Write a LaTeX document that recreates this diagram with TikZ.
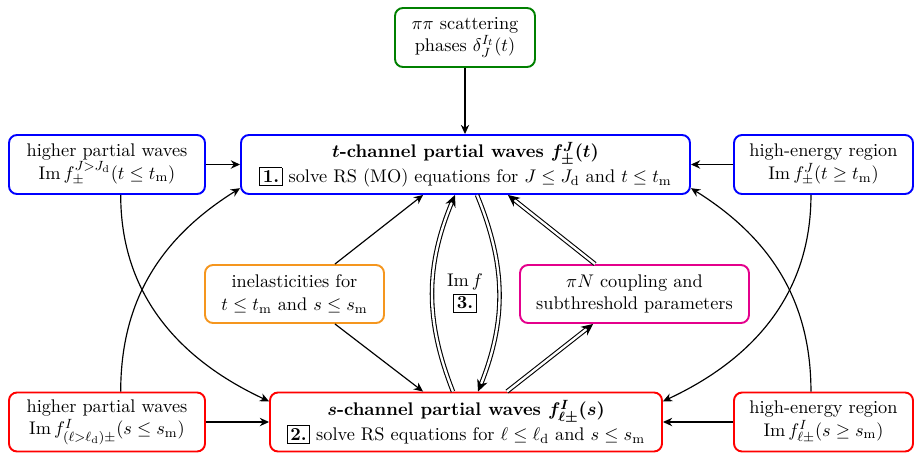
\documentclass[11pt,tikz,border=0pt]{standalone}
\usepackage{amsmath,amssymb}
\usetikzlibrary{arrows.meta}
\definecolor{myorange}{RGB}{245,150,30}
\definecolor{mymagenta}{RGB}{228,0,140}
\definecolor{mygreen}{RGB}{0,128,0}
\newcommand{\nbox}[1]{{\setlength{\fboxsep}{1.6pt}\fbox{\textbf{#1}}}}
\begin{document}
\begin{tikzpicture}[x=0.5984pt,y=-0.5984pt,
  box/.style={draw, rounded corners=4.8pt, line width=1.15pt, align=center, inner xsep=2pt, inner ysep=2pt, minimum height=35.3pt, fill=white},
  arr/.style={line width=0.7pt, -{Stealth[length=5.5pt,width=5pt]}},
  dbl/.style={double, double distance=1.4pt, line width=0.65pt, -{Stealth[length=7pt,width=6.5pt]}}
]
\useasboundingbox (0,0) rectangle (914,452);
\node[box, draw=mygreen, minimum width=83.8pt] (pipi) at (465,37.5) {$\pi\pi$ scattering\\ phases $\delta^{I_t}_J(t)$};
\node[box, draw=blue, minimum width=268.7pt] (tchan) at (465.5,164.5) {{\bfseries\boldmath $t$-channel partial waves $f^J_\pm(t)$}\\ \nbox{1.} solve RS (MO) equations for $J\le J_\mathrm{d}$ and $t\le t_\mathrm{m}$};
\node[box, draw=blue, minimum width=117.3pt] (ltop) at (107,164.5) {higher partial waves\\ $\mathrm{Im}\, f^{J>J_\mathrm{d}}_\pm(t\le t_\mathrm{m})$};
\node[box, draw=blue, minimum width=107.1pt] (rtop) at (823.5,164.5) {high-energy region\\ $\mathrm{Im}\, f^{J}_\pm(t\ge t_\mathrm{m})$};
\node[box, draw=myorange, minimum width=107.1pt, minimum height=34.7pt] (orange) at (294.5,294) {inelasticities for\\ $t\le t_\mathrm{m}$ and $s\le s_\mathrm{m}$};
\node[box, draw=mymagenta, minimum width=137pt, minimum height=34.7pt] (magenta) at (634.5,294) {$\pi N$ coupling and\\ subthreshold parameters};
\node[align=center, inner sep=1pt] (imf) at (465,293) {$\mathrm{Im}\, f$\\ \nbox{3.}};
\node[box, draw=red, minimum width=234.6pt] (schan) at (466,422) {{\bfseries\boldmath $s$-channel partial waves $f^I_{\ell\pm}(s)$}\\ \nbox{2.} solve RS equations for $\ell\le \ell_\mathrm{d}$ and $s\le s_\mathrm{m}$};
\node[box, draw=red, minimum width=117.3pt] (lbot) at (107,422) {higher partial waves\\ $\mathrm{Im}\, f^{I}_{(\ell>\ell_\mathrm{d})\pm}(s\le s_\mathrm{m})$};
\node[box, draw=red, minimum width=107.1pt] (rbot) at (823.5,422) {high-energy region\\ $\mathrm{Im}\, f^{I}_{\ell\pm}(s\ge s_\mathrm{m})$};

\draw[arr] (pipi.south) -- (pipi.south |- tchan.north);
\draw[arr] (ltop.east) -- (tchan.west);
\draw[arr] (rtop.west) -- (tchan.east);
\draw[arr] (lbot.east) -- (schan.west);
\draw[arr] (rbot.west) -- (schan.east);

\draw[arr] ([xshift=8.2pt]ltop.south) to[out=-90,in=155] (schan.174);
\draw[arr] ([xshift=8.2pt]lbot.north) to[out=90,in=212] (tchan.186);
\draw[arr] ([xshift=-7.5pt]rtop.south) to[out=-90,in=25] (schan.6);
\draw[arr] ([xshift=-7.5pt]rbot.north) to[out=90,in=-32] (tchan.354);

\draw[arr] ([xshift=24.2pt]orange.north) -- ([xshift=-25.4pt]tchan.south);
\draw[arr] ([xshift=24.2pt]orange.south) -- ([xshift=-25.7pt]schan.north);

\draw[dbl] ([xshift=-7.8pt]schan.north) to[bend left=22] ([xshift=-6.3pt]tchan.south);
\draw[dbl] ([xshift=6.9pt]tchan.south) to[bend left=22] ([xshift=7.2pt]schan.north);

\draw[dbl] ([xshift=-23.6pt]magenta.north) -- ([xshift=25.4pt]tchan.south);
\draw[dbl] ([xshift=24.5pt]schan.north) -- ([xshift=-24.8pt]magenta.south);
\end{tikzpicture}
\end{document}
